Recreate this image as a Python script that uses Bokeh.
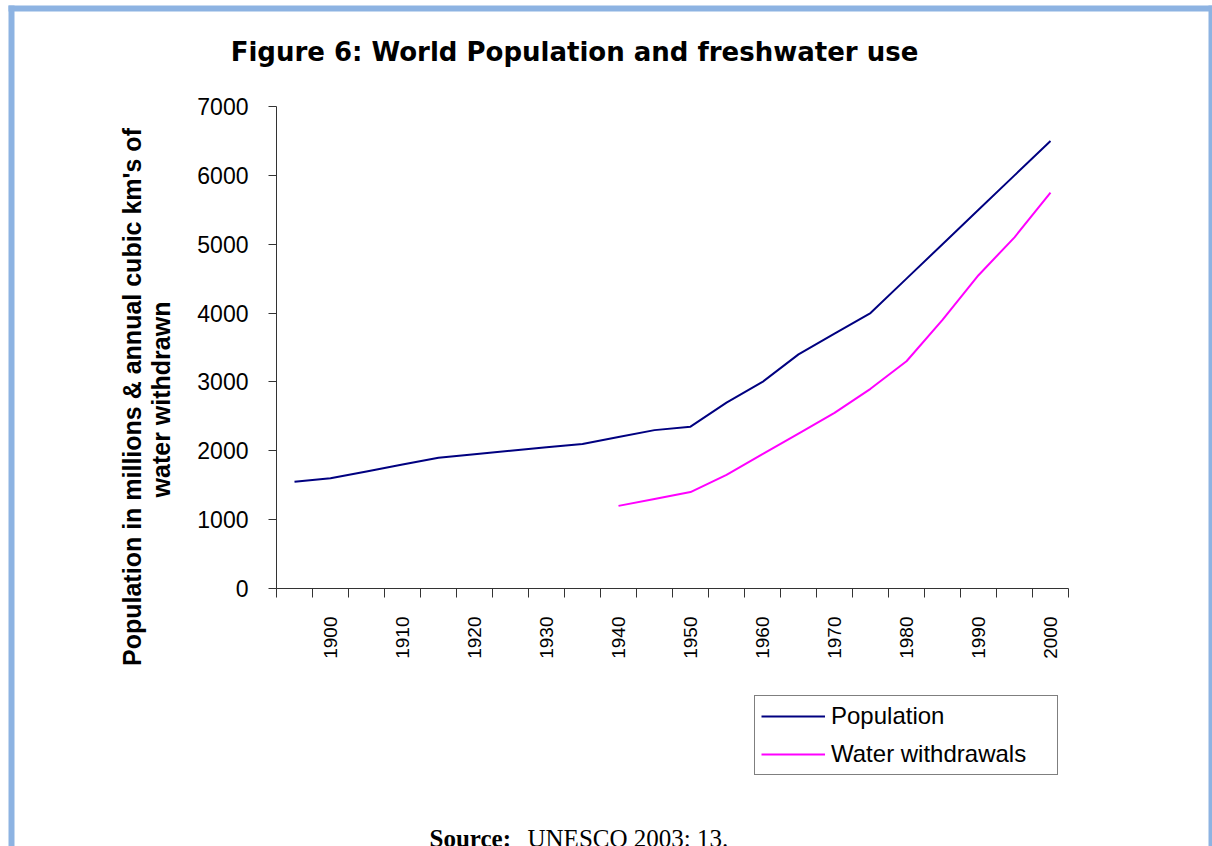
from math import pi
from bokeh.plotting import figure
from bokeh.models import FixedTicker, Label, Legend, LegendItem, Range1d
from bokeh.embed import file_html
from bokeh.resources import INLINE

# ---- data ----
pop_years = [1895, 1900, 1905, 1910, 1915, 1920, 1925, 1930, 1935, 1940, 1945,
             1950, 1955, 1960, 1965, 1970, 1975, 1980, 1985, 1990, 1995, 2000]
population = [1550, 1600, 1700, 1800, 1900, 1950, 2000, 2050, 2100, 2200, 2300,
              2350, 2700, 3000, 3400, 3700, 4000, 4500, 5000, 5500, 6000, 6500]
water_years = [1940, 1945, 1950, 1955, 1960, 1965, 1970, 1975, 1980, 1985, 1990, 1995, 2000]
water = [1200, 1300, 1400, 1650, 1950, 2250, 2550, 2900, 3300, 3900, 4550, 5100, 5750]
x_tick_labels = [1900, 1910, 1920, 1930, 1940, 1950, 1960, 1970, 1980, 1990, 2000]
y_ticks = [0, 1000, 2000, 3000, 4000, 5000, 6000, 7000]
category_edges = [1892.5 + 5 * k for k in range(23)]

X0, X1 = 1892.5, 2002.5      # category axis extent
Y0, Y1 = 0, 7000             # value axis extent

# plot-area geometry on the page (pixels)
FL, FT, FW, FH = 276, 106, 792, 482
W, H = 1212, 846

def dx(px):
    return X0 + (px - FL) / FW * (X1 - X0)

def dy(py):
    return Y0 + (FT + FH - py) / FH * (Y1 - Y0)

# frame covers the whole canvas; axes are pinned at the data edges
p = figure(width=W, height=H, output_backend="svg", toolbar_location=None, title=None,
           x_range=Range1d(dx(0), dx(W)), y_range=Range1d(dy(H), dy(0)),
           min_border=0, min_border_left=0, min_border_right=0,
           min_border_top=0, min_border_bottom=0)
p.xgrid.visible = False
p.ygrid.visible = False
p.outline_line_color = None
p.background_fill_color = "white"
p.border_fill_color = "white"

# page frame (light blue rule at the top and the sides)
p.quad(left=[dx(8), dx(8), dx(1208)], right=[dx(W), dx(14), dx(W)],
       top=[dy(5), dy(5), dy(5)], bottom=[dy(11), dy(H), dy(H)],
       fill_color="#8DB3E2", line_color=None)

# x axis
xa = p.xaxis[0]
xa.fixed_location = Y0
xa.bounds = (X0, X1)
xa.ticker = FixedTicker(ticks=x_tick_labels, minor_ticks=category_edges)
xa.major_tick_line_color = None
xa.major_tick_out = 0
xa.major_tick_in = 0
xa.minor_tick_out = 9
xa.minor_tick_in = 0
xa.minor_tick_line_color = "#333333"
xa.axis_line_color = "#333333"
xa.major_label_orientation = pi / 2
xa.major_label_standoff = 19
xa.major_label_text_font = "Liberation Sans"
xa.major_label_text_font_size = "19px"
xa.major_label_text_color = "black"

# y axis
ya = p.yaxis[0]
ya.fixed_location = X0
ya.bounds = (Y0, Y1)
ya.ticker = FixedTicker(ticks=y_ticks, minor_ticks=[])
ya.minor_tick_line_color = None
ya.major_tick_out = 8
ya.major_tick_in = 0
ya.major_tick_line_color = "#333333"
ya.axis_line_color = "#333333"
ya.major_label_standoff = 20
ya.major_label_text_font = "Liberation Sans"
ya.major_label_text_font_size = "23px"
ya.major_label_text_color = "black"

r1 = p.line(pop_years, population, line_color="#000080", line_width=2)
r2 = p.line(water_years, water, line_color="#FF00FF", line_width=2)

legend = Legend(items=[LegendItem(label="Population", renderers=[r1]),
                       LegendItem(label="Water withdrawals", renderers=[r2])],
                location=(754, H - 775))
legend.padding = 6
legend.margin = 0
legend.spacing = 10
legend.glyph_width = 64
legend.label_standoff = 6
legend.label_width = 220
legend.label_text_font = "Liberation Sans"
legend.label_text_font_size = "24px"
legend.label_text_color = "black"
legend.border_line_color = "black"
legend.border_line_width = 1
legend.background_fill_color = "white"
legend.background_fill_alpha = 1
p.add_layout(legend, "center")

# texts
p.add_layout(Label(x=dx(574), y=dy(51), text="Figure 6: World Population and freshwater use",
                   text_font="DejaVu Sans", text_font_style="bold", text_font_size="26px",
                   text_align="center", text_baseline="middle", text_color="black"))
p.add_layout(Label(x=dx(131), y=dy(396.5), text="Population in millions & annual cubic km's of",
                   angle=pi / 2, text_font="Liberation Sans", text_font_style="bold",
                   text_font_size="25px", text_align="center", text_baseline="middle",
                   text_color="black"))
p.add_layout(Label(x=dx(160), y=dy(399), text="water withdrawn",
                   angle=pi / 2, text_font="Liberation Sans", text_font_style="bold",
                   text_font_size="25px", text_align="center", text_baseline="middle",
                   text_color="black"))
p.add_layout(Label(x=dx(429), y=dy(838), text="Source:",
                   text_font="Liberation Serif", text_font_style="bold", text_font_size="25px",
                   text_align="left", text_baseline="alphabetic", text_color="black"))
p.add_layout(Label(x=dx(527), y=dy(838), text="UNESCO 2003: 13.",
                   text_font="Liberation Serif", text_font_size="25px",
                   text_align="left", text_baseline="alphabetic", text_color="black"))

open("out.html", "w").write(file_html(p, INLINE))
